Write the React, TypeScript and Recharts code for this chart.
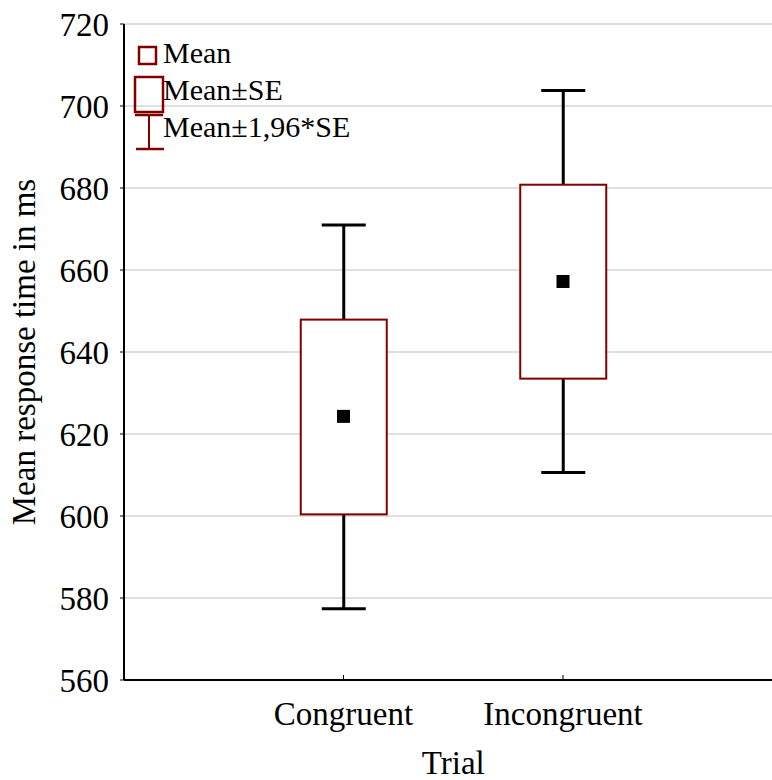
import React from 'react';
import { ComposedChart, Bar, Scatter, XAxis, YAxis, CartesianGrid, Legend } from 'recharts';

const trials = ['Congruent', 'Incongruent'];
const positions = [1, 2];
const means = [624.3, 657.2];
const seLow = [600.4, 633.5];
const seHigh = [647.9, 680.8];
const ciLow = [577.4, 610.6];
const ciHigh = [671.0, 703.8];
const yTicks = [560, 580, 600, 620, 640, 660, 680, 700, 720];
const legendLabels = ['Mean', 'Mean±SE', 'Mean±1,96*SE'];

const data = trials.map((name, i) => ({
  name,
  x: positions[i],
  mean: means[i],
  box: [seLow[i], seHigh[i]],
  whisker: [ciLow[i], ciHigh[i]],
}));

const RED = '#800000';
const FONT = '"Liberation Serif", "Times New Roman", serif';

const WhiskerShape = (props: any) => {
  const { x, y, width, height } = props;
  const top = Math.min(y, y + height);
  const bottom = Math.max(y, y + height);
  const cx = x + width / 2;
  return (
    <g>
      <line x1={cx} x2={cx} y1={top} y2={bottom} stroke="#000" strokeWidth={3} />
      <line x1={x} x2={x + width} y1={top} y2={top} stroke="#000" strokeWidth={3} />
      <line x1={x} x2={x + width} y1={bottom} y2={bottom} stroke="#000" strokeWidth={3} />
    </g>
  );
};

const BoxShape = (props: any) => {
  const { x, y, width, height } = props;
  const top = Math.min(y, y + height);
  return <rect x={x} y={top} width={width} height={Math.abs(height)} fill="#fff" stroke={RED} strokeWidth={2} />;
};

const MeanShape = (props: any) => {
  const { cx, cy } = props;
  return <rect x={cx - 6.5} y={cy - 6.5} width={13} height={13} fill="#000" />;
};

const YLabel = (props: any) => {
  const { viewBox } = props;
  const cx = viewBox.x + 24;
  const cy = viewBox.y + viewBox.height / 2;
  return (
    <text x={cx} y={cy} transform={`rotate(-90 ${cx} ${cy})`} textAnchor="middle" dominantBaseline="central"
      fontFamily={FONT} fontSize={33} fill="#000">
      Mean response time in ms
    </text>
  );
};

// legend drawn by hand, offset 10px down inside its own svg so the text isn't clipped
const LegendBox = () => (
  <svg width={240} height={125} style={{ display: 'block', overflow: 'visible' }}>
    <rect x={9} y={17} width={17} height={17} fill="none" stroke={RED} strokeWidth={2.5} />
    <rect x={5} y={47} width={28} height={35} fill="none" stroke={RED} strokeWidth={2.5} />
    <line x1={19} x2={19} y1={85} y2={119} stroke={RED} strokeWidth={2} />
    <line x1={5} x2={33} y1={85} y2={85} stroke={RED} strokeWidth={2.5} />
    <line x1={6} x2={34} y1={119} y2={119} stroke={RED} strokeWidth={2.5} />
    {legendLabels.map((l, i) => (
      <text key={l} x={33} y={33 + i * 37} fontFamily={FONT} fontSize={30} fill="#000">{l}</text>
    ))}
  </svg>
);

const tickStyle = { fontFamily: FONT, fontSize: 33, fill: '#000' };

export default function App() {
  return (
    <div style={{ position: 'absolute', left: 0, top: 0, width: 772, height: 780, overflow: 'hidden', background: '#fff' }}>
      <ComposedChart width={800} height={780} data={data} margin={{ top: 24, right: 17.5, bottom: 0, left: 0 }}>
        <CartesianGrid horizontal vertical={false} stroke="#d6d6d6" strokeWidth={1.5} />
        <XAxis
          dataKey="x"
          type="number"
          domain={[0, 3]}
          ticks={positions}
          tickFormatter={(v: number) => trials[v - 1]}
          height={100}
          tickSize={-5}
          tickMargin={27}
          tick={tickStyle}
          tickLine={{ stroke: '#000', strokeWidth: 1 }}
          axisLine={{ stroke: '#000', strokeWidth: 2 }}
          label={{ value: 'Trial', position: 'insideBottom', offset: 6, fontFamily: FONT, fontSize: 33, fill: '#000' }}
        />
        <XAxis
          xAxisId="top"
          orientation="top"
          dataKey="x"
          type="number"
          domain={[0, 3]}
          ticks={positions}
          mirror
          height={0}
          tick={false}
          tickSize={5}
          tickLine={{ stroke: '#000', strokeWidth: 1 }}
          axisLine={{ stroke: '#000', strokeWidth: 2 }}
        />
        <XAxis xAxisId="w" dataKey="x" type="number" domain={[0, 3]} hide />
        <XAxis xAxisId="b" dataKey="x" type="number" domain={[0, 3]} hide />
        <YAxis
          type="number"
          domain={[560, 720]}
          ticks={yTicks}
          width={124}
          tickSize={4}
          tickMargin={11}
          tick={tickStyle}
          tickLine={{ stroke: '#000', strokeWidth: 1 }}
          axisLine={{ stroke: '#000', strokeWidth: 2 }}
          label={<YLabel />}
        />
        <Legend
          layout="vertical"
          align="center"
          verticalAlign="middle"
          wrapperStyle={{ top: 30, left: 130, width: 240 }}
          content={() => <LegendBox />}
        />
        <Bar xAxisId="w" dataKey="whisker" barSize={44} shape={<WhiskerShape />} isAnimationActive={false} />
        <Bar xAxisId="b" dataKey="box" barSize={86} shape={<BoxShape />} isAnimationActive={false} />
        <Scatter dataKey="mean" shape={<MeanShape />} isAnimationActive={false} />
      </ComposedChart>
    </div>
  );
}
